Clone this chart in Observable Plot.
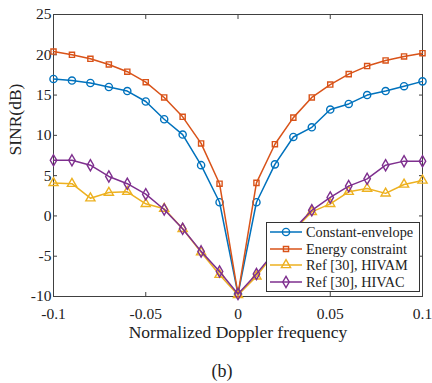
<!DOCTYPE html>
<html>
<head>
<meta charset="utf-8">
<script src="https://cdn.jsdelivr.net/npm/d3@7"></script>
<script src="https://cdn.jsdelivr.net/npm/@observablehq/plot@0.6"></script>
<style>
  html, body { margin: 0; padding: 0; background: #fff; }
  #wrap { position: relative; width: 432px; height: 383px; font-family: "Liberation Serif", "Times New Roman", serif; }
  #caption { position: absolute; left: 0; width: 444px; top: 361px; text-align: center; font-size: 18px; line-height: 20px; color: #222; }
  #legend { position: absolute; left: 266px; top: 222px; width: 154px; height: 70px; background: #fff; border: 1px solid #333; box-sizing: border-box; padding-top: 1px; }
  .row { display: flex; align-items: center; height: 16.6px; font-size: 14.3px; line-height: 16px; color: #222; white-space: nowrap; }
  .row svg { margin-left: 3px; margin-right: 4px; flex: none; }
</style>
</head>
<body>
<div id="wrap"></div>
<script>
// ---- data ----
const doppler = [-0.1, -0.09, -0.08, -0.07, -0.06, -0.05, -0.04, -0.03, -0.02, -0.01, 0,
                 0.01, 0.02, 0.03, 0.04, 0.05, 0.06, 0.07, 0.08, 0.09, 0.1];
const constantEnvelope = [17.0, 16.8, 16.5, 16.0, 15.5, 14.2, 12.0, 10.1, 6.3, 1.7, -9.7,
                          1.7, 6.4, 9.8, 11.0, 13.2, 13.9, 15.0, 15.5, 16.1, 16.7];
const energyConstraint = [20.4, 20.0, 19.5, 18.8, 17.9, 16.6, 14.7, 12.3, 9.0, 4.0, -9.7,
                          4.1, 8.9, 12.2, 14.7, 16.3, 17.6, 18.6, 19.3, 19.8, 20.2];
const hivam = [4.1, 4.0, 2.2, 2.9, 3.0, 1.5, 0.9, -1.6, -4.5, -7.3, -9.8,
               -7.5, -4.5, -1.8, 0.5, 1.5, 3.0, 3.4, 2.8, 3.9, 4.4];
const hivac = [6.9, 6.9, 6.3, 4.9, 4.0, 2.7, 0.8, -1.6, -4.4, -6.9, -9.7,
               -7.2, -4.4, -1.7, 0.7, 2.3, 3.7, 4.6, 6.3, 6.8, 6.8];
const seriesNames = ["Constant-envelope", "Energy constraint", "Ref [30], HIVAM", "Ref [30], HIVAC"];
const seriesColors = ["#0072BD", "#D95319", "#EDB120", "#7E2F8E"];
const seriesSymbols = ["circle", "square", "triangle", "diamond"];
const seriesSizes = [3.6, 2.9, 3.4, 3.4];
const xTicks = [-0.1, -0.05, 0, 0.05, 0.1];
const xTickLabels = ["-0.1", "-0.05", "0", "0.05", "0.1"];
const yTicks = [-10, -5, 0, 5, 10, 15, 20, 25];
const yTickLabels = ["-10", "-5", "0", "5", "10", "15", "20", "25"];
const xLabel = "Normalized Doppler frequency";
const yLabel = "SINR(dB)";
const captionText = "(b)";

const allValues = [constantEnvelope, energyConstraint, hivam, hivac];
const rows = [];
seriesNames.forEach((name, i) => {
  doppler.forEach((x, j) => rows.push({series: name, x, y: allValues[i][j]}));
});

const axisColor = "#404040";
const marks = [
  Plot.frame({stroke: axisColor, strokeWidth: 1}),
  Plot.axisX(xTicks, {anchor: "bottom", tickSize: -4, tickPadding: 15, stroke: axisColor,
    tickFormat: (d, i) => xTickLabels[i], fontSize: 15.5, fill: "#222", label: null}),
  Plot.axisX(xTicks, {anchor: "top", tickSize: -4, stroke: axisColor, tickFormat: () => "", label: null}),
  Plot.axisY(yTicks, {anchor: "left", tickSize: -4, tickPadding: 6, stroke: axisColor,
    tickFormat: (d, i) => yTickLabels[i], fontSize: 15.5, fill: "#222", label: null}),
  Plot.axisY(yTicks, {anchor: "right", tickSize: -4, stroke: axisColor, tickFormat: () => "", label: null}),
  Plot.text([xLabel], {frameAnchor: "bottom", dy: 41, fontSize: 17.5, fill: "#222", text: d => d}),
  Plot.text([yLabel], {frameAnchor: "left", dx: -38, rotate: -90, fontSize: 17.5, fill: "#222", text: d => d})
];
seriesNames.forEach((name, i) => {
  const d = rows.filter(r => r.series === name);
  marks.push(Plot.line(d, {x: "x", y: "y", stroke: seriesColors[i], strokeWidth: 1.5}));
  marks.push(Plot.dot(d, {x: "x", y: "y", stroke: seriesColors[i], fill: "none", strokeWidth: 1.4,
    symbol: seriesSymbols[i], r: seriesSizes[i]}));
});

const chart = Plot.plot({
  width: 432,
  height: 350,
  marginLeft: 53,
  marginRight: 10,
  marginTop: 14,
  marginBottom: 54,
  style: {fontFamily: "'Liberation Serif', 'Times New Roman', serif", fontSize: "15px", color: "#222", background: "#fff"},
  x: {domain: [-0.1, 0.1]},
  y: {domain: [-10, 25]},
  marks
});
const wrap = document.getElementById("wrap");
wrap.appendChild(chart);

// legend
const legend = document.createElement("div");
legend.id = "legend";
seriesNames.forEach((name, i) => {
  const row = document.createElement("div");
  row.className = "row";
  const svg = d3.create("svg").attr("width", 32).attr("height", 14);
  svg.append("line").attr("x1", 0).attr("x2", 32).attr("y1", 7).attr("y2", 7)
    .attr("stroke", seriesColors[i]).attr("stroke-width", 1.5);
  const symType = {circle: d3.symbolCircle, square: d3.symbolSquare, triangle: d3.symbolTriangle, diamond: d3.symbolDiamond}[seriesSymbols[i]];
  const r = seriesSizes[i];
  svg.append("path").attr("transform", "translate(16,7)")
    .attr("d", d3.symbol(symType, Math.PI * r * r)())
    .attr("fill", "none").attr("stroke", seriesColors[i]).attr("stroke-width", 1.4);
  row.appendChild(svg.node());
  const span = document.createElement("span");
  span.textContent = name;
  row.appendChild(span);
  legend.appendChild(row);
});
wrap.appendChild(legend);

const cap = document.createElement("div");
cap.id = "caption";
cap.textContent = captionText;
wrap.appendChild(cap);
</script>
</body>
</html>
